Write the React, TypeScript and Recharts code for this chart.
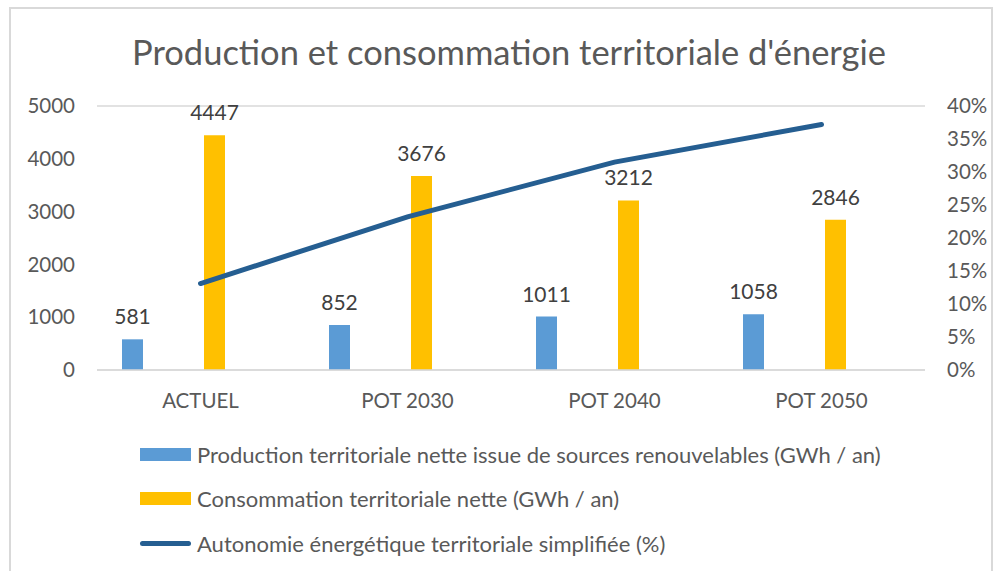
import React from 'react';
import { ComposedChart, Bar, Line, XAxis, YAxis, CartesianGrid, Legend, LabelList } from 'recharts';

const categories = ['ACTUEL', 'POT 2030', 'POT 2040', 'POT 2050'];
const production = [581, 852, 1011, 1058];
const consommation = [4447, 3676, 3212, 2846];
const autonomie = [0.131, 0.232, 0.315, 0.372];

const leftTicks = [0, 1000, 2000, 3000, 4000, 5000];
const rightTicks = [0, 0.05, 0.1, 0.15, 0.2, 0.25, 0.3, 0.35, 0.4];

const seriesNames = [
  'Production territoriale nette issue de sources renouvelables (GWh / an)',
  'Consommation territoriale nette (GWh / an)',
  'Autonomie énergétique territoriale simplifiée (%)',
];
const seriesColors = ['#5B9BD5', '#FFC000', '#255E91'];

const data = categories.map((name, i) => ({
  name,
  production: production[i],
  consommation: consommation[i],
  autonomie: autonomie[i],
}));

const FONT = 'Lato, "Open Sans", sans-serif';
const AXIS_GREY = '#595959';
const GRID = '#D9D9D9';

function LegendBlock() {
  return (
    <div style={{ fontFamily: FONT, fontSize: 22, color: AXIS_GREY }}>
      {seriesNames.map((label, i) => (
        <div key={label} style={{ display: 'flex', alignItems: 'center', height: 44.5, whiteSpace: 'nowrap' }}>
          {i < 2 ? (
            <span style={{ display: 'inline-block', width: 51, height: 13, background: seriesColors[i], marginRight: 6 }} />
          ) : (
            <span style={{ display: 'inline-block', width: 51, height: 5, borderRadius: 3, background: seriesColors[i], marginRight: 6 }} />
          )}
          <span>{label}</span>
        </div>
      ))}
    </div>
  );
}

export default function App() {
  return (
    <div style={{ position: 'absolute', left: 0, top: 0, width: 994, height: 571, background: '#fff', overflow: 'hidden' }}>
      <div
        style={{
          position: 'absolute', left: 9, top: 7, width: 984, height: 600,
          border: '2px solid #D9D9D9', boxSizing: 'border-box',
        }}
      />
      <div
        style={{
          position: 'absolute', left: 0, top: 29, width: 1018, textAlign: 'center',
          fontFamily: FONT, fontSize: 34.5, color: AXIS_GREY, lineHeight: '46px',
        }}
      >
        Production et consommation territoriale d'énergie
      </div>
      <ComposedChart
        width={994}
        height={571}
        data={data}
        margin={{ top: 106, right: 0, left: 0, bottom: 171 }}
        barGap={4}
        style={{ position: 'absolute', left: 0, top: 0 }}
      >
        <CartesianGrid vertical={false} stroke={GRID} strokeWidth={1.5} />
        <XAxis
          dataKey="name"
          height={30}
          axisLine={{ stroke: GRID, strokeWidth: 1.5 }}
          tickLine={false}
          tickSize={0}
          tickMargin={23}
          tick={{ fontSize: 20.5, fill: AXIS_GREY, fontFamily: FONT }}
        />
        <YAxis
          yAxisId="left"
          width={97}
          domain={[0, 5000]}
          ticks={leftTicks}
          axisLine={false}
          tickLine={false}
          tickSize={0}
          tickMargin={22}
          tick={{ fontSize: 20.5, fill: AXIS_GREY, fontFamily: FONT }}
        />
        <YAxis
          yAxisId="right"
          orientation="right"
          width={69}
          domain={[0, 0.4]}
          ticks={rightTicks}
          axisLine={false}
          tickLine={false}
          tickSize={0}
          tickMargin={22}
          tickFormatter={(v: number) => `${Math.round(v * 100)}%`}
          tick={{ fontSize: 20.5, fill: AXIS_GREY, fontFamily: FONT }}
        />
        <Legend
          layout="vertical"
          align="center"
          verticalAlign="middle"
          content={() => <LegendBlock />}
          wrapperStyle={{ position: 'absolute', left: 140, top: 432, width: 840 }}
        />
        <Bar yAxisId="left" dataKey="production" name={seriesNames[0]} fill={seriesColors[0]} barSize={21} isAnimationActive={false}>
          <LabelList dataKey="production" position="top" offset={15} fill="#404040" fontSize={21} fontFamily={FONT} />
        </Bar>
        <Bar yAxisId="left" dataKey="gapA" fill="none" barSize={53} legendType="none" isAnimationActive={false} />
        <Bar yAxisId="left" dataKey="consommation" name={seriesNames[1]} fill={seriesColors[1]} barSize={21} isAnimationActive={false}>
          <LabelList dataKey="consommation" position="top" offset={15} fill="#404040" fontSize={21} fontFamily={FONT} />
        </Bar>
        <Bar yAxisId="left" dataKey="gapB" fill="none" barSize={50} legendType="none" isAnimationActive={false} />
        <Line
          yAxisId="right"
          dataKey="autonomie"
          name={seriesNames[2]}
          type="linear"
          stroke={seriesColors[2]}
          strokeWidth={5}
          strokeLinecap="round"
          dot={false}
          activeDot={false}
          isAnimationActive={false}
        />
      </ComposedChart>
    </div>
  );
}
